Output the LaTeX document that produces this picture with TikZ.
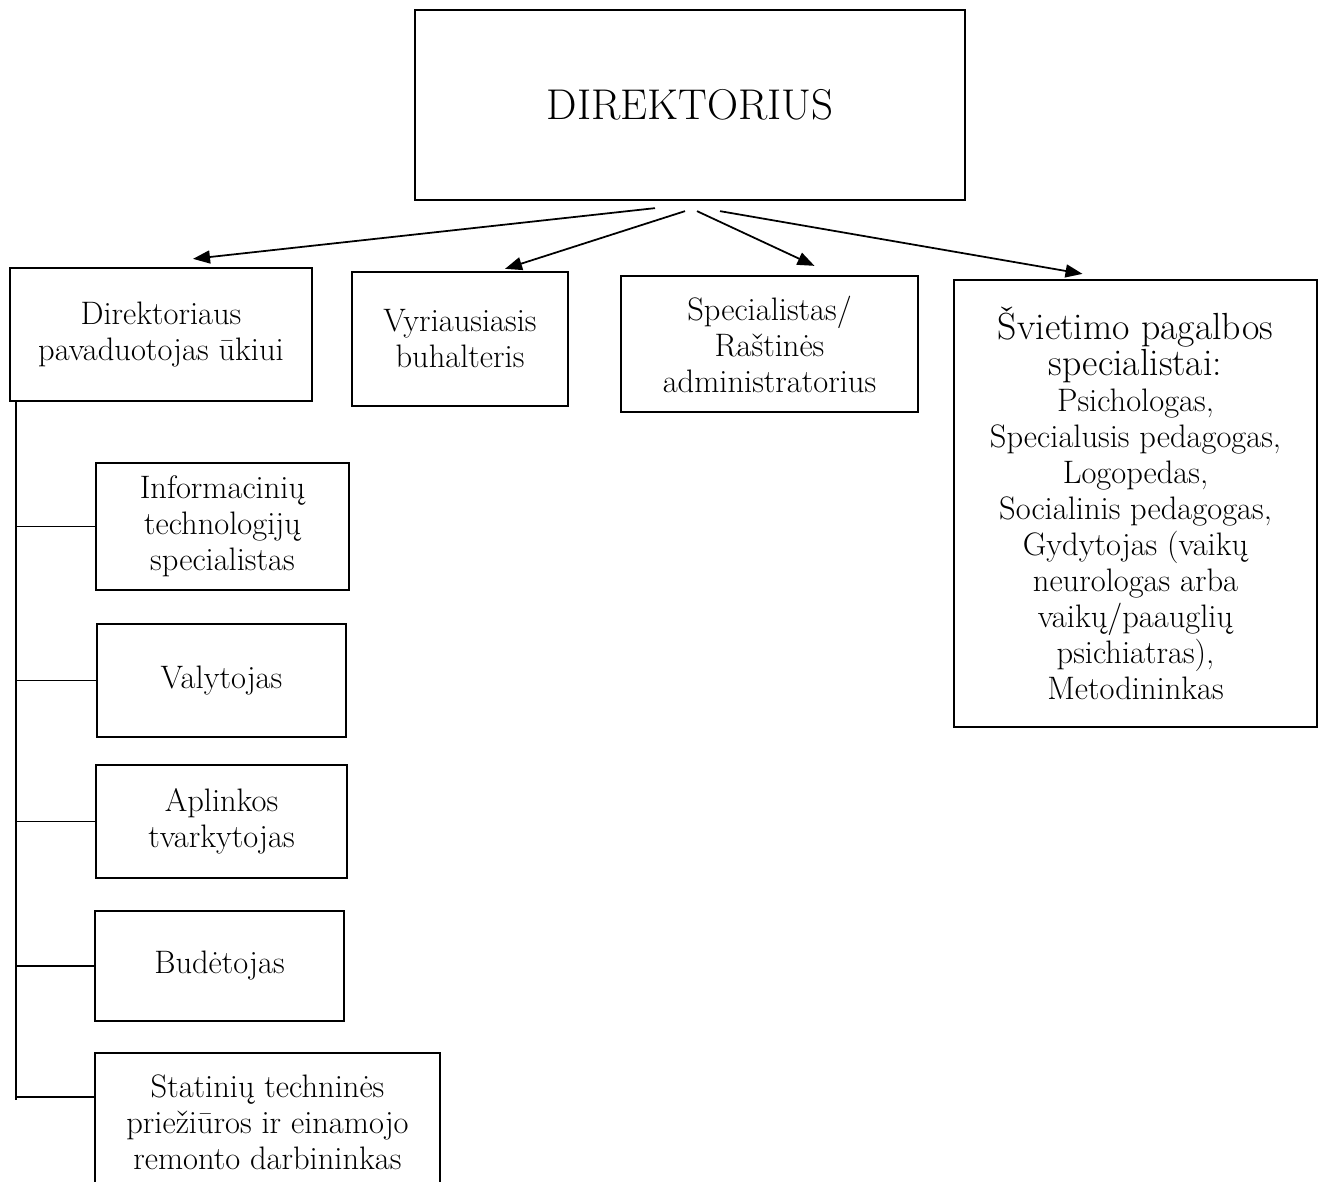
\documentclass[tikz,border=0pt]{standalone}
\usepackage{fontspec}
\usetikzlibrary{arrows.meta}
\begin{document}
\begin{tikzpicture}[x=0.02cm,y=-0.02cm]
  \useasboundingbox (0,0) rectangle (1324,1182);
  \begin{scope}[every node/.style={draw,line width=1.3pt,inner sep=0pt,align=center,font=\fontsize{18.5}{20.5}\selectfont}]
  \node[minimum width=550*0.02cm,minimum height=190*0.02cm,font=\fontsize{24.5}{28}\selectfont] (dir) at (690,105) {DIREKTORIUS};
  \node[minimum width=302*0.02cm,minimum height=133*0.02cm] (ukis) at (161,334.5) {Direktoriaus\\pavaduotojas ūkiui};
  \node[minimum width=216*0.02cm,minimum height=134*0.02cm] (buh) at (460,339) {Vyriausiasis\\buhalteris};
  \node[minimum width=297*0.02cm,minimum height=136*0.02cm] (spec) at (769.5,344) {Specialistas/\\Raštinės\\administratorius};
  \node[minimum width=363*0.02cm,minimum height=447*0.02cm] (svie) at (1135.5,503.5) {{\fontsize{21.5}{22}\selectfont Švietimo pagalbos}\\{\fontsize{21.5}{22}\selectfont specialistai:}\\Psichologas,\\Specialusis pedagogas,\\Logopedas,\\Socialinis pedagogas,\\Gydytojas (vaikų\\neurologas arba\\vaikų/paauglių\\psichiatras),\\Metodininkas};
  \node[minimum width=253*0.02cm,minimum height=127*0.02cm] (it) at (222.5,526.5) {Informacinių\\technologijų\\specialistas};
  \node[minimum width=249*0.02cm,minimum height=113*0.02cm] (val) at (221.5,680.5) {Valytojas};
  \node[minimum width=251*0.02cm,minimum height=113*0.02cm] (apl) at (221.5,821.5) {Aplinkos\\tvarkytojas};
  \node[minimum width=249*0.02cm,minimum height=110*0.02cm] (bud) at (219.5,966) {Budėtojas};
  \node[minimum width=345*0.02cm,minimum height=138*0.02cm] (stat) at (267.5,1122) {Statinių techninės\\priežiūros ir einamojo\\remonto darbininkas};
  \end{scope}
  \coordinate (top) at ([shift={(7,0)}]ukis.south west);
  \coordinate (bot) at (17,1100);
  \begin{scope}[every edge/.style={draw=black,line width=1pt,-{Triangle[length=0.34cm,width=0.26cm]}}]
  \path ([shift={(-35,7)}]dir.south) edge ([shift={(32,-8)}]ukis.north);
  \path ([shift={(-5,10)}]dir.south) edge ([shift={(45,-2)}]buh.north);
  \path ([shift={(7,10)}]dir.south) edge ([shift={(45,-9)}]spec.north);
  \path ([shift={(30,10)}]dir.south) edge ([shift={(-53,-5)}]svie.north);
  \end{scope}
  \begin{scope}[every edge/.style={draw=black,line width=0.9pt}]
  \path (top) edge (top |- bot);
  \path (it.west -| top) edge (it.west);
  \path (val.west -| top) edge (val.west);
  \path (apl.west -| top) edge (apl.west);
  \path (bud.west -| top) edge (bud.west);
  \path ([shift={(0,-25)}]stat.west -| top) edge ([shift={(0,-25)}]stat.west);
  \end{scope}
\end{tikzpicture}
\end{document}
